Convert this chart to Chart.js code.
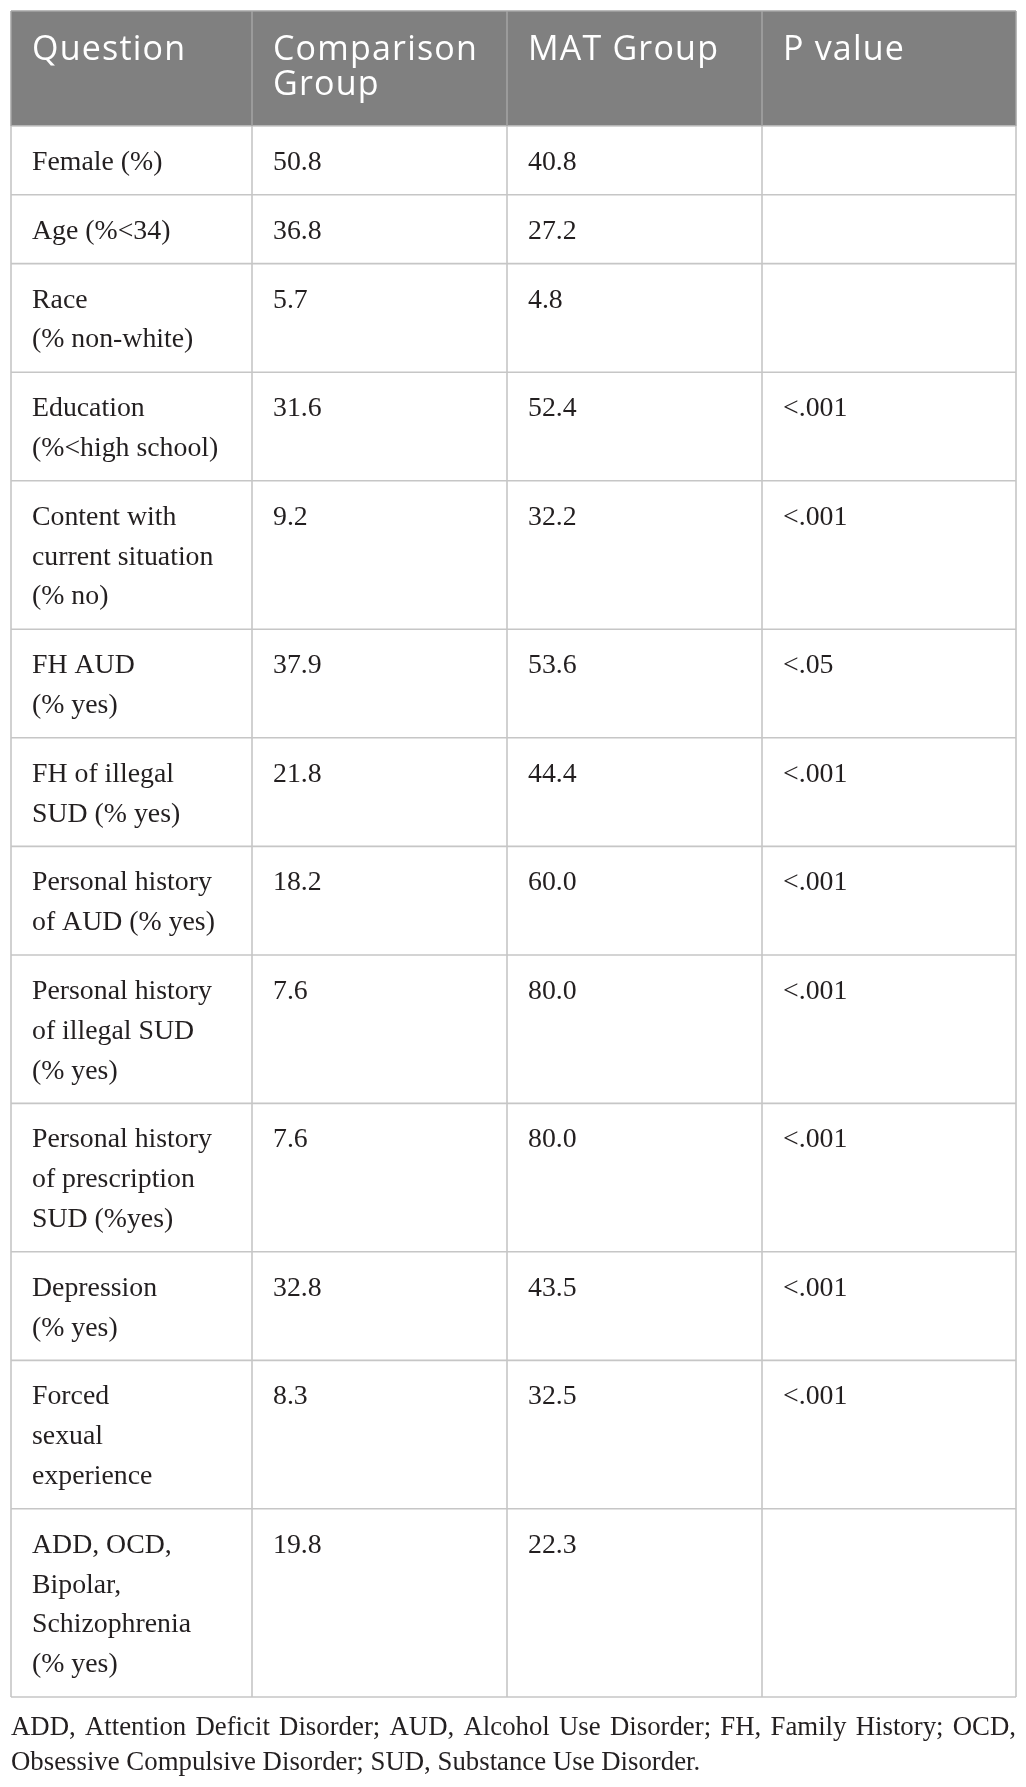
<!DOCTYPE html>
<html>
<head>
<meta charset="utf-8">
<script src="https://cdn.jsdelivr.net/npm/chart.js@4.4.1/dist/chart.umd.min.js"></script>
<style>
  html, body { margin: 0; padding: 0; background: #ffffff; }
  #wrap { width: 1026px; height: 1787px; position: relative; }
</style>
</head>
<body>
<div id="wrap"><canvas id="c" width="1026" height="1787"></canvas></div>
<script>
// ---------------- DATA ----------------
const columnHeaders = ["Question", "Comparison\nGroup", "MAT Group", "P value"];
const questions = [
  "Female (%)",
  "Age (%<34)",
  "Race\n(% non-white)",
  "Education\n(%<high school)",
  "Content with\ncurrent situation\n(% no)",
  "FH AUD\n(% yes)",
  "FH of illegal\nSUD (% yes)",
  "Personal history\nof AUD (% yes)",
  "Personal history\nof illegal SUD\n(% yes)",
  "Personal history\nof prescription\nSUD (%yes)",
  "Depression\n(% yes)",
  "Forced\nsexual\nexperience",
  "ADD, OCD,\nBipolar,\nSchizophrenia\n(% yes)"
];
const comparisonGroup = [50.8, 36.8, 5.7, 31.6, 9.2, 37.9, 21.8, 18.2, 7.6, 7.6, 32.8, 8.3, 19.8];
const matGroup = [40.8, 27.2, 4.8, 52.4, 32.2, 53.6, 44.4, 60.0, 80.0, 80.0, 43.5, 32.5, 22.3];
const pValues = ["", "", "", "<.001", "<.001", "<.05", "<.001", "<.001", "<.001", "<.001", "<.001", "<.001", ""];
const footnoteLines = [
  "ADD, Attention Deficit Disorder; AUD, Alcohol Use Disorder; FH, Family History; OCD,",
  "Obsessive Compulsive Disorder; SUD, Substance Use Disorder."
];

// ---------------- LAYOUT ----------------
const L = {
  colEdges: [11, 252, 507, 762, 1016],
  top: 11,
  headerBottom: 126,
  rowBase: 68.8,
  lineH: 39.8,
  firstBaseline: 44,
  padX: 21,
  headBaseline: 48.5,
  headLineH: 35.7,
  footFirstBaseline: 38,
  footLineH: 34.5,
  bodyFont: '27.8px "Liberation Serif", "Times New Roman", serif',
  headFont: '34px "Open Sans", "Noto Sans", sans-serif',
  footFont: '26.8px "Liberation Serif", "Times New Roman", serif',
  textColor: '#231f20',
  headerBg: '#808080',
  ruleColor: '#c6c6c6',
  headRule: '#a4a4a4'
};

// row boundaries derived from the number of text lines in each question
const rowTops = [];
let yCur = L.headerBottom;
questions.forEach(q => {
  rowTops.push(yCur);
  const n = q.split("\n").length;
  yCur += L.rowBase + (n - 1) * L.lineH;
});
const tableBottom = yCur;
const boundaries = [L.headerBottom].concat(rowTops.slice(1)).concat([tableBottom]);

const left = L.colEdges[0], right = L.colEdges[L.colEdges.length - 1];

// horizontal rules (segments separated by gaps)
const hRules = [];
boundaries.forEach(y => { hRules.push({x: left, y: y}, {x: right, y: y}, {x: right, y: null}); });
// body vertical rules
const vBody = [];
L.colEdges.forEach(x => { vBody.push({x: x, y: L.headerBottom}, {x: x, y: tableBottom}, {x: x, y: null}); });
// header rules (outer + separators)
const vHead = [];
L.colEdges.forEach(x => { vHead.push({x: x, y: L.top}, {x: x, y: L.headerBottom}, {x: x, y: null}); });
vHead.push({x: left, y: L.top}, {x: right, y: L.top});

const textPlugin = {
  id: 'tableText',
  afterDatasetsDraw(chart) {
    const ctx = chart.ctx;
    const xs = chart.scales.x, ys = chart.scales.y;
    const px = v => xs.getPixelForValue(v);
    const py = v => ys.getPixelForValue(v);
    ctx.save();
    ctx.textBaseline = 'alphabetic';
    ctx.textAlign = 'left';

    // header
    ctx.font = L.headFont;
    ctx.fillStyle = '#ffffff';
    try { ctx.letterSpacing = '1.2px'; } catch (e) {}
    columnHeaders.forEach((h, ci) => {
      h.split("\n").forEach((line, li) => {
        ctx.fillText(line, px(L.colEdges[ci] + L.padX), py(L.top + L.headBaseline + li * L.headLineH));
      });
    });
    try { ctx.letterSpacing = '0px'; } catch (e) {}

    // body
    ctx.font = L.bodyFont;
    ctx.fillStyle = L.textColor;
    questions.forEach((q, ri) => {
      const top = rowTops[ri];
      const cells = [q, comparisonGroup[ri].toFixed(1), matGroup[ri].toFixed(1), pValues[ri]];
      cells.forEach((cell, ci) => {
        String(cell).split("\n").forEach((line, li) => {
          if (!line) return;
          ctx.fillText(line, px(L.colEdges[ci] + L.padX), py(top + L.firstBaseline + li * L.lineH));
        });
      });
    });

    // footnote (justified except last line)
    ctx.font = L.footFont;
    footnoteLines.forEach((line, li) => {
      const y = py(tableBottom + L.footFirstBaseline + li * L.footLineH);
      if (li === footnoteLines.length - 1) {
        ctx.fillText(line, px(left), y);
        return;
      }
      const words = line.split(" ");
      const wsum = words.reduce((s, w) => s + ctx.measureText(w).width, 0);
      const gap = (px(right) - px(left) - wsum) / (words.length - 1);
      let x = px(left);
      words.forEach(w => {
        ctx.fillText(w, x, y);
        x += ctx.measureText(w).width + gap;
      });
    });
    ctx.restore();
  }
};

new Chart(document.getElementById('c'), {
  type: 'scatter',
  data: {
    datasets: [
      { label: 'header rules', data: vHead, showLine: true, spanGaps: false, borderColor: L.headRule, borderWidth: 1.5, pointRadius: 0, order: 1 },
      { label: 'horizontal rules', data: hRules, showLine: true, spanGaps: false, borderColor: L.ruleColor, borderWidth: 1.6, pointRadius: 0, order: 2 },
      { label: 'vertical rules', data: vBody, showLine: true, spanGaps: false, borderColor: L.ruleColor, borderWidth: 1.6, pointRadius: 0, order: 2 },
      { label: 'header', data: [{x: left, y: L.top}, {x: right, y: L.top}], showLine: true, borderWidth: 0, pointRadius: 0,
        backgroundColor: L.headerBg, fill: {value: L.headerBottom}, order: 5 }
    ]
  },
  options: {
    responsive: false,
    animation: false,
    events: [],
    layout: { padding: 0 },
    plugins: { legend: { display: false }, tooltip: { enabled: false }, filler: { propagate: false } },
    scales: {
      x: { type: 'linear', min: 0, max: 1026, display: false },
      y: { type: 'linear', min: 0, max: 1787, reverse: true, display: false }
    }
  },
  plugins: [textPlugin]
});
</script>
</body>
</html>
